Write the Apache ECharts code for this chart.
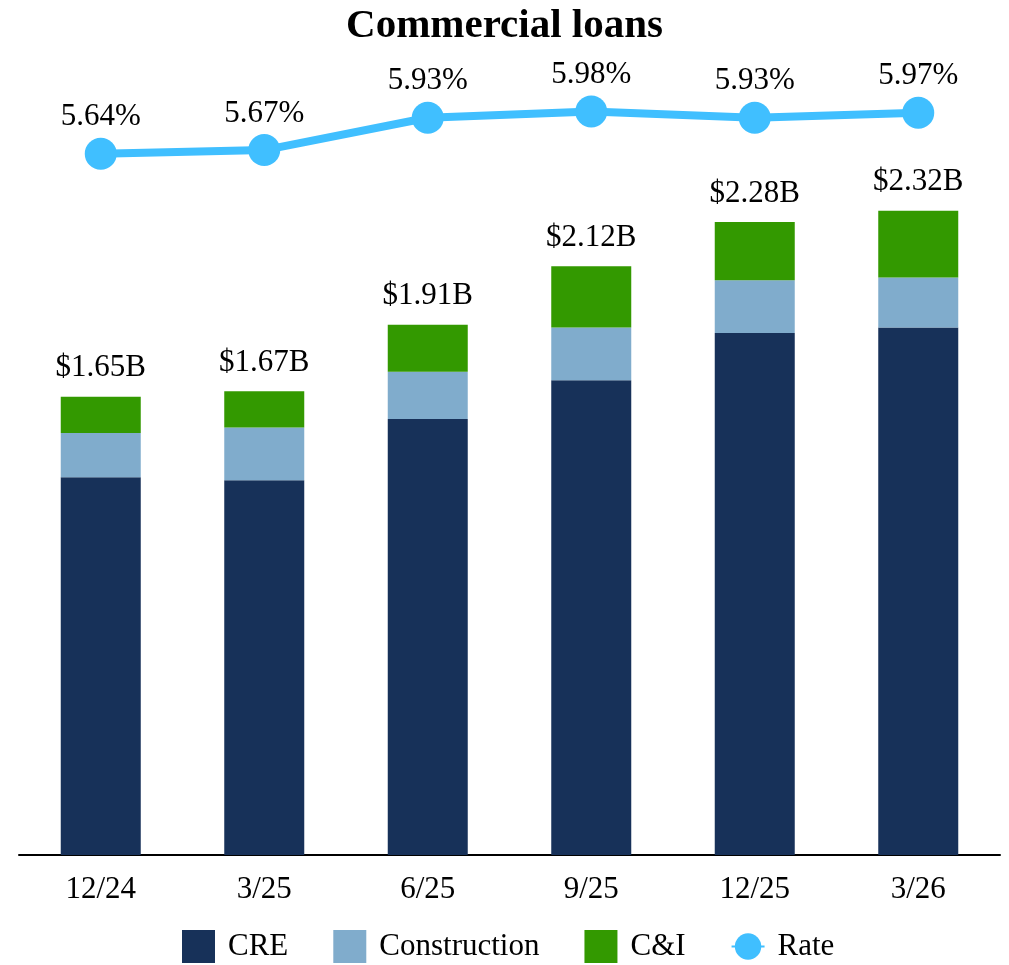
<!DOCTYPE html>
<html>
<head>
<meta charset="utf-8">
<script src="https://cdn.jsdelivr.net/npm/echarts@6/dist/echarts.min.js"></script>
<style>
  html, body { margin: 0; padding: 0; background: #fff; }
  #chart { width: 1009px; height: 965px; }
</style>
</head>
<body>
<div id="chart"></div>
<script>
// quarters
const categories = ['12/24', '3/25', '6/25', '9/25', '12/25', '3/26']
// balances in $B
const cre = [1.36, 1.35, 1.57, 1.71, 1.88, 1.90]
const construction = [0.16, 0.19, 0.17, 0.19, 0.19, 0.18]
const cAndI = [0.13, 0.13, 0.17, 0.22, 0.21, 0.24]
// printed totals above bars
const totals = [1.65, 1.67, 1.91, 2.12, 2.28, 2.32]
// yield, %
const rate = [5.64, 5.67, 5.93, 5.98, 5.93, 5.97]

const FONT = '"Liberation Serif", "Times New Roman", serif'

const chart = echarts.init(document.getElementById('chart'))

chart.setOption({
  animation: false,
  textStyle: { fontFamily: FONT },
  title: {
    text: 'Commercial loans',
    left: 'center',
    top: 1,
    textStyle: { fontFamily: FONT, fontSize: 41, fontWeight: 'bold', color: '#000' }
  },
  grid: {
    left: 19,
    right: 9,
    top: 22,
    bottom: 110
  },
  legend: {
    top: 925,
    left: 177,
    itemWidth: 33,
    itemHeight: 33,
    itemGap: 45,
    data: [
      { name: 'CRE', icon: 'rect' },
      { name: 'Construction', icon: 'rect' },
      { name: 'C&I', icon: 'rect' },
      { name: 'Rate' }
    ],
    textStyle: { fontFamily: FONT, fontSize: 31, color: '#000', padding: [0, 0, 0, 8] }
  },
  xAxis: {
    type: 'category',
    data: categories,
    axisLine: { lineStyle: { color: '#000', width: 2 } },
    axisTick: { show: false },
    axisLabel: { fontFamily: FONT, fontSize: 31, color: '#000', margin: 19 }
  },
  yAxis: [
    { type: 'value', min: 0, max: 3, show: false, splitLine: { show: false } },
    { type: 'value', min: 0, max: 6.7, show: false, splitLine: { show: false } }
  ],
  series: [
    {
      name: 'CRE',
      type: 'bar',
      stack: 'loans',
      barWidth: 80,
      itemStyle: { color: '#173159' },
      data: cre
    },
    {
      name: 'Construction',
      type: 'bar',
      stack: 'loans',
      itemStyle: { color: '#80ACCC' },
      data: construction
    },
    {
      name: 'C&I',
      type: 'bar',
      stack: 'loans',
      itemStyle: { color: '#339900' },
      label: {
        show: true,
        position: 'top',
        distance: 13,
        fontFamily: FONT,
        fontSize: 31,
        color: '#000',
        formatter: p => '$' + totals[p.dataIndex].toFixed(2) + 'B'
      },
      data: cAndI
    },
    {
      name: 'Rate',
      type: 'line',
      yAxisIndex: 1,
      symbol: 'circle',
      symbolSize: 32,
      lineStyle: { color: '#40BFFF', width: 8 },
      itemStyle: { color: '#40BFFF' },
      label: {
        show: true,
        position: 'top',
        distance: 5,
        fontFamily: FONT,
        fontSize: 31,
        color: '#000',
        formatter: p => p.value.toFixed(2) + '%'
      },
      data: rate
    }
  ]
})
</script>
</body>
</html>
